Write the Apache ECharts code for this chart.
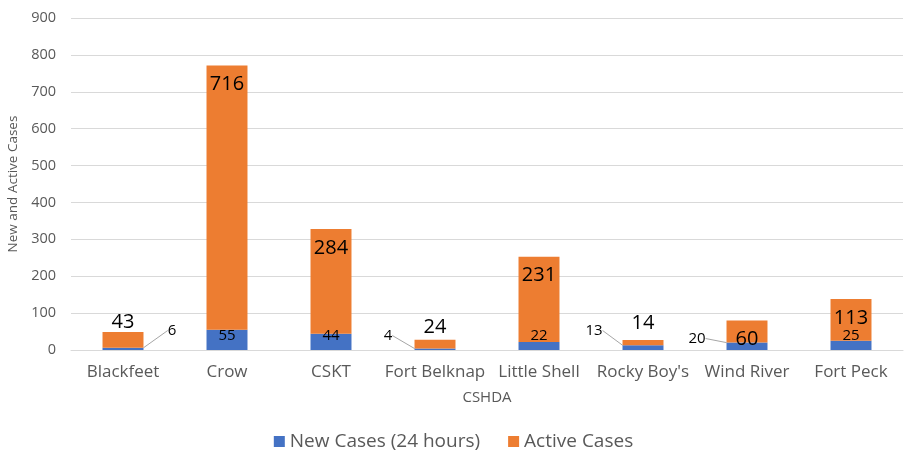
<!DOCTYPE html>
<html>
<head>
<meta charset="utf-8">
<script src="https://cdn.jsdelivr.net/npm/echarts@6/dist/echarts.min.js"></script>
<style>
html, body { margin: 0; padding: 0; background: #fff; }
#container { width: 907px; height: 451px; }
</style>
</head>
<body>
<div id="container"></div>
<script>
// data
var categories = ['Blackfeet', 'Crow', 'CSKT', 'Fort Belknap', 'Little Shell', "Rocky Boy's", 'Wind River', 'Fort Peck'];
var newCases = [6, 55, 44, 4, 22, 13, 20, 25];
var activeCases = [43, 716, 284, 24, 231, 14, 60, 113];

var blue = '#4472C4';
var orange = '#ED7D31';
var textGray = '#595959';
var font = 'Open Sans';

// where the orange labels go (Excel had them hand placed)
var activeLabelPos = ['top', 'insideTop', 'insideTop', 'top', 'insideTop', 'top', 'inside', 'insideTop'];
var activeLabelDist = [0, 9, 9, 2, 9, 7, 0, 9];
// small blue labels pulled out to the side with a leader line
var newLabelMove = {0: [49, -5], 3: [-47, 0], 5: [-49, -5], 6: [-50, 3]};

var dom = document.getElementById('container');
var myChart = echarts.init(dom);

var activeData = activeCases.map(function (v, i) {
    var lab = {position: activeLabelPos[i], distance: activeLabelDist[i]};
    if (activeLabelPos[i] === 'inside') lab.offset = [0, 8];
    return {value: v, label: lab};
});

var option = {
    backgroundColor: '#fff',
    textStyle: {fontFamily: font},
    grid: {left: 71, right: 4, top: 18, bottom: 101, outerBoundsMode: 'none'},
    legend: {
        top: 427,
        left: 'center',
        icon: 'rect',
        itemWidth: 11,
        itemHeight: 11,
        itemGap: 28,
        textStyle: {color: textGray, fontSize: 19, fontFamily: font},
        data: ['New Cases (24 hours)', 'Active Cases']
    },
    xAxis: {
        type: 'category',
        data: categories,
        name: 'CSHDA',
        nameLocation: 'middle',
        nameGap: 40,
        nameTextStyle: {color: textGray, fontSize: 15},
        axisLine: {lineStyle: {color: '#d9d9d9'}},
        axisTick: {show: false},
        axisLabel: {color: textGray, fontSize: 17, margin: 14, interval: 0}
    },
    yAxis: {
        type: 'value',
        min: 0,
        max: 900,
        interval: 100,
        name: 'New and Active Cases',
        nameLocation: 'middle',
        nameGap: 51,
        nameTextStyle: {color: textGray, fontSize: 13.5},
        axisLine: {show: false},
        axisTick: {show: false},
        axisLabel: {color: textGray, fontSize: 14.5, margin: 15},
        splitLine: {lineStyle: {color: '#d9d9d9'}}
    },
    series: [
        {
            name: 'New Cases (24 hours)',
            type: 'bar',
            stack: 'cases',
            barWidth: '39.4%',
            itemStyle: {color: blue},
            label: {
                show: true,
                position: 'insideBottom',
                distance: 7,
                color: '#000',
                fontSize: 15
            },
            labelLine: {show: true, lineStyle: {color: '#a6a6a6', width: 1}},
            labelLayout: function (params) {
                var m = newLabelMove[params.dataIndex];
                if (m) return {dx: m[0], dy: m[1]};
                return {};
            },
            data: newCases
        },
        {
            name: 'Active Cases',
            type: 'bar',
            stack: 'cases',
            barWidth: '39.4%',
            itemStyle: {color: orange},
            label: {
                show: true,
                color: '#000',
                fontSize: 20
            },
            data: activeData
        }
    ]
};
myChart.setOption(option);
</script>
</body>
</html>
